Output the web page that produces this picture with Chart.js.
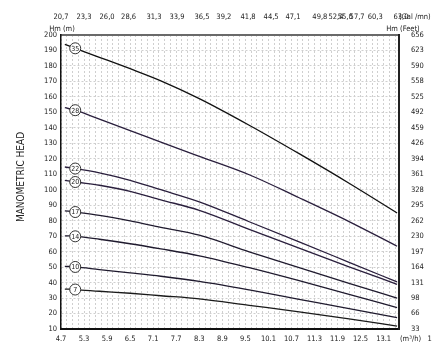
<!DOCTYPE html>
<html><head><meta charset="utf-8">
<script src="https://cdn.jsdelivr.net/npm/chart.js@4/dist/chart.umd.min.js"></script>
<style>html,body{margin:0;padding:0;background:#fff}#wrap{width:441px;height:358px}</style>
</head><body><div id="wrap"><canvas id="c" width="441" height="358"></canvas></div>
<script>
// ---- data ----
const flows = [4.8, 5.07, 5.7, 6.5, 7.3, 8.3, 9.6, 10.9, 12.2, 13.45]; // m3/h
const curveNames = ['35', '28', '22', '20', '17', '14', '10', '7'];
const head35 = [194.0, 191.4, 185.6, 178.2, 170.4, 158.9, 141.7, 123.3, 104.2, 85.0];
const head28 = [153.0, 151.4, 145.6, 138.2, 130.7, 121.6, 109.7, 94.8, 79.4, 63.5];
const head22 = [114.7, 113.7, 110.9, 106.1, 100.0, 92.2, 79.3, 66.3, 53.1, 40.4];
const head20 = [106.1, 105.0, 102.9, 99.0, 93.5, 86.7, 74.4, 62.2, 50.2, 38.9];
const head17 = [86.4, 85.6, 83.5, 79.9, 75.7, 70.6, 59.9, 49.6, 39.5, 30.0];
const head14 = [70.2, 69.9, 68.0, 65.1, 61.8, 57.3, 49.6, 41.2, 32.4, 23.8];
const head10 = [50.5, 50.1, 48.4, 46.3, 44.1, 40.8, 35.3, 29.2, 23.1, 17.4];
const head7 = [35.8, 35.5, 34.4, 33.1, 31.5, 29.5, 25.3, 21.1, 16.6, 11.9];
const heads = [head35, head28, head22, head20, head17, head14, head10, head7];

const flowTickLabels = ['4.7','5.3','5.9','6.5','7.1','7.7','8.3','8.9','9.5','10.1','10.7','11.3','11.9','12.5','13.1'];
const flowExtraLabels = ['(m³/h)', '1'];
const flowExtraAt = [13.8, 14.3];
const gpmLabels = ['20,7','23,3','26,0','28,6','31,3','33,9','36,5','39,2','41,8','44,5','47,1','49,8','52,4','55,0','57,7','60,3','63,0'];
const gpmAt = [4.7, 5.3, 5.9, 6.46, 7.12, 7.72, 8.37, 8.94, 9.57, 10.17, 10.74, 11.44, 11.86, 12.1, 12.41, 12.88, 13.55];
const gpmUnit = '(Gal /mn)';
const headTicks = [10,20,30,40,50,60,70,80,90,100,110,120,130,140,150,160,170,180,190,200];
const feetLabels = ['33','66','98','131','164','197','230','262','295','328','361','394','426','459','492','525','558','590','623','656'];

// ---- chart ----
const FONT = "'Liberation Sans Narrow', 'DejaVu Sans Condensed', 'Liberation Sans', sans-serif";
const lineColors = ['#111111', '#2a1f3d', '#2a1f3d', '#2a1f3d', '#1f1a2e', '#1f1a2e', '#1f1a2e', '#1a1a1a'];

const datasets = heads.map((h, k) => ({
  label: curveNames[k],
  data: flows.map((f, i) => ({x: f, y: h[i]})),
  borderColor: lineColors[k],
  borderWidth: 1.3,
  cubicInterpolationMode: 'monotone',
  pointRadius: ctx => ctx.dataIndex === 1 ? 5.5 : 0,
  pointHoverRadius: 0,
  pointBackgroundColor: '#ffffff',
  pointBorderColor: '#333333',
  pointBorderWidth: 1,
  fill: false
}));

const textPlugin = {
  id: 'texts',
  afterDatasetsDraw(chart) {
    const ctx = chart.ctx;
    ctx.save();
    ctx.fillStyle = '#222';
    ctx.textBaseline = 'middle';
    ctx.textAlign = 'center';
    ctx.font = '7px ' + FONT;
    chart.data.datasets.forEach((ds, k) => {
      const pt = chart.getDatasetMeta(k).data[1];
      ctx.fillText(curveNames[k], pt.x, pt.y + 0.5);
    });
    ctx.restore();
  },
  afterDraw(chart) {
    const ctx = chart.ctx;
    const xs = chart.scales.x;
    const ca = chart.chartArea;
    ctx.save();
    ctx.fillStyle = '#222';
    ctx.textBaseline = 'middle';
    ctx.font = '7.5px ' + FONT;
    ctx.textAlign = 'center';
    gpmLabels.forEach((t, i) => ctx.fillText(t, xs.getPixelForValue(gpmAt[i]), 17));
    ctx.textAlign = 'left';
    ctx.fillText(gpmUnit, xs.getPixelForValue(gpmAt[gpmAt.length - 1]) - 2, 17);
    ctx.textAlign = 'center';
    ctx.fillText('Hm (m)', ca.left + 1, 29);
    ctx.fillText('Hm (Feet)', ca.right + 4, 29);
    flowExtraLabels.forEach((t, i) => ctx.fillText(t, xs.getPixelForValue(flowExtraAt[i]), ca.bottom + 10));
    ctx.translate(21, 177);
    ctx.rotate(-Math.PI / 2);
    ctx.font = '10px ' + FONT;
    ctx.fillText('MANOMETRIC HEAD', 0, 0);
    ctx.restore();
  }
};

const tickFont = {family: FONT, size: 7.5};
const gridCol = '#cfcfcf';

new Chart(document.getElementById('c'), {
  type: 'line',
  data: {datasets},
  options: {
    responsive: false,
    devicePixelRatio: 1,
    animation: false,
    events: [],
    layout: {padding: 0},
    plugins: {legend: {display: false}, tooltip: {enabled: false}},
    scales: {
      x: {
        type: 'linear', position: 'bottom', min: 4.7, max: 13.5,
        afterBuildTicks: s => { const t = []; for (let k = 0; k <= 58; k++) t.push({value: 4.7 + 0.15 * k}); s.ticks = t; },
        afterFit: s => { s.height = 29; },
        ticks: {autoSkip: false, maxRotation: 0, padding: 6, color: '#222', font: tickFont,
          callback: (v, i) => (i % 4 === 0 && flowTickLabels[i / 4]) ? flowTickLabels[i / 4] : ''},
        grid: {color: gridCol, drawTicks: false, lineWidth: 1},
        border: {display: true, color: '#111', width: 2, dash: [2, 2]}
      },
      x2: {
        type: 'linear', position: 'top', min: 4.7, max: 13.5,
        afterFit: s => { s.height = 35; },
        ticks: {display: false},
        grid: {display: false},
        border: {display: true, color: '#6a6a6a', width: 2}
      },
      y: {
        type: 'linear', position: 'left', min: 10, max: 200,
        afterBuildTicks: s => { s.ticks = headTicks.map(v => ({value: v})); },
        afterFit: s => { s.width = 61; },
        ticks: {padding: 4, color: '#222', font: tickFont, autoSkip: false},
        grid: {color: gridCol, drawTicks: false, lineWidth: 1},
        border: {display: true, color: '#111', width: 1.5, dash: [2, 2]}
      },
      y2: {
        type: 'linear', position: 'right', min: 10, max: 200,
        afterBuildTicks: s => { s.ticks = headTicks.map(v => ({value: v})); },
        afterFit: s => { s.width = 42; },
        ticks: {padding: 4, color: '#222', font: tickFont, autoSkip: false,
          callback: (v, i) => feetLabels[i]},
        grid: {display: false},
        border: {display: true, color: '#222', width: 2}
      }
    }
  },
  plugins: [textPlugin]
});
</script></body></html>
